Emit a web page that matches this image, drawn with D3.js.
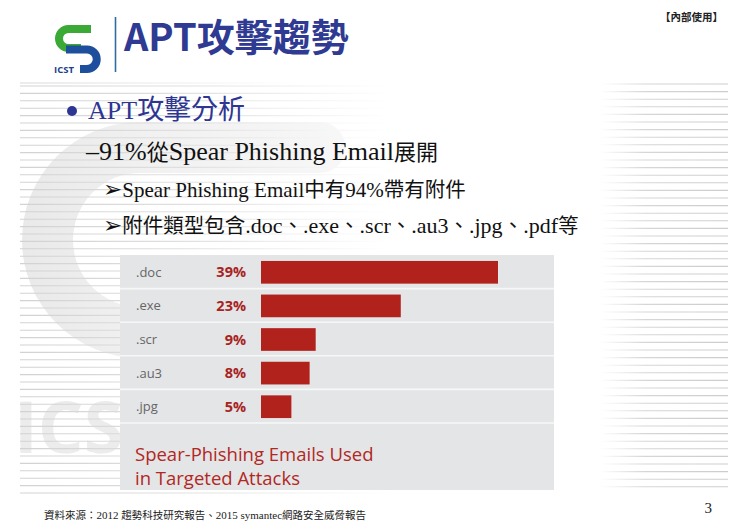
<!DOCTYPE html>
<html lang="zh-Hant">
<head>
<meta charset="UTF-8">
<title>APT攻擊趨勢</title>
<style>
  html, body { margin: 0; padding: 0; background: #fff; }
  svg { display: block; }
</style>
</head>
<body>
<script src="https://cdn.jsdelivr.net/npm/d3@7"></script>
<script>
  // chart data
  const categories = ['.doc', '.exe', '.scr', '.au3', '.jpg'];
  const shares = [39, 23, 9, 8, 5];
  const shareLabels = ['39%', '23%', '9%', '8%', '5%'];
  const chartTitle = ['Spear-Phishing Emails Used', 'in Targeted Attacks'];

  // slide texts
  const slideTitle = 'APT攻擊趨勢';
  const bulletText = 'APT攻擊分析';
  const subText = '–91%從Spear Phishing Email展開';
  const points = ['Spear Phishing Email中有94%帶有附件', '附件類型包含.doc、.exe、.scr、.au3、.jpg、.pdf等'];
  const sourceNote = '資料來源：2012 趨勢科技研究報告、2015  symantec網路安全威脅報告';

  const width = 750, height = 530;
  const panel = { left: 120, right: 554, top: 255, rows: 423, bottom: 490 };
  const barColor = '#b1221c';
  const redText = '#a8231d';
  const blue = '#2e3592';
  const cjk = '"Noto Sans CJK TC", "Noto Sans CJK SC", sans-serif';
  const serif = '"Liberation Serif", "Times New Roman", serif';
  const sans = '"Open Sans", "Noto Sans", sans-serif';

  const svg = d3.select('body').append('svg')
    .attr('width', width)
    .attr('height', height);

  const defs = svg.append('defs');
  const grad = (id, x1, x2, stops) => {
    const g = defs.append('linearGradient').attr('id', id)
      .attr('gradientUnits', 'userSpaceOnUse')
      .attr('x1', x1).attr('x2', x2).attr('y1', 0).attr('y2', 0);
    stops.forEach(s => g.append('stop').attr('offset', s[0]).attr('stop-color', s[1]));
  };
  grad('fadeL', 20, 390, [[0, '#d2d2d2'], [0.45, '#e0e0e0'], [1, '#ffffff']]);
  grad('fadeR', 600, 728, [[0, '#ffffff'], [0.35, '#d6d6d6'], [1, '#cdcdcd']]);
  grad('fadeHead', 20, 300, [[0, '#d8d8d8'], [1, '#ffffff']]);
  grad('ringShade', 20, 340, [[0, '#e9e9e9'], [0.4, '#f1f1f1'], [1, '#f7f7f7']]);

  // watermark: big C and ICS letters
  const wm = svg.append('g').classed('watermark', true);
  wm.append('path')
    .attr('d', 'M 320 122 H 140 A 118 118 0 0 0 140 358 H 330 V 307 H 140 A 67 67 0 0 1 140 173 H 320 A 25.5 25.5 0 0 0 320 122 Z')
    .attr('fill', 'url(#ringShade)');
  wm.append('text')
    .attr('x', 14).attr('y', 453)
    .attr('font-family', sans).attr('font-weight', 700).attr('font-size', 72)
    .attr('fill', '#ececec')
    .text('ICS');

  // striped background
  const stripesL = d3.range(86, 497, 7.4);
  svg.append('g').classed('stripes', true).selectAll('line').data(stripesL).join('line')
    .attr('x1', 20).attr('x2', 390)
    .attr('y1', d => d).attr('y2', d => d)
    .attr('stroke', 'url(#fadeL)').attr('stroke-width', 1.1);
  const stripesR = d3.range(84, 492, 7.6);
  svg.append('g').classed('stripes', true).selectAll('line').data(stripesR).join('line')
    .attr('x1', 600).attr('x2', 728)
    .attr('y1', d => d).attr('y2', d => d)
    .attr('stroke', 'url(#fadeR)').attr('stroke-width', 1.1);

  // header
  const head = svg.append('g').classed('header', true);
  head.append('path')
    .attr('d', 'M 91 29 H 68.5 A 9.5 9.5 0 0 0 68.5 48 H 81')
    .attr('fill', 'none').attr('stroke', '#3aa935').attr('stroke-width', 8);
  head.append('path')
    .attr('d', 'M 66 49.5 H 87 A 9.75 9.75 0 0 1 87 69 H 80')
    .attr('fill', 'none').attr('stroke', '#1d4f9c').attr('stroke-width', 8);
  head.append('text')
    .attr('x', 54).attr('y', 73)
    .attr('font-family', sans).attr('font-weight', 700).attr('font-size', 9.5)
    .attr('fill', '#1d3f8c')
    .text('ICST');
  head.append('line')
    .attr('x1', 115.5).attr('x2', 115.5).attr('y1', 17).attr('y2', 72)
    .attr('stroke', '#2f6d9e').attr('stroke-width', 1.6);
  head.append('text')
    .attr('x', 124).attr('y', 51)
    .attr('font-family', cjk).attr('font-weight', 700).attr('font-size', 38)
    .attr('fill', '#2f3a92')
    .text(slideTitle);
  head.append('line')
    .attr('x1', 20).attr('x2', 300).attr('y1', 83).attr('y2', 83)
    .attr('stroke', 'url(#fadeHead)').attr('stroke-width', 1.2);
  head.append('text')
    .attr('x', 723).attr('y', 21)
    .attr('text-anchor', 'end')
    .attr('font-family', cjk).attr('font-weight', 700).attr('font-size', 10.5)
    .attr('fill', '#222')
    .text('【內部使用】');

  // mixed latin / cjk text helper
  const cjkRe = /([\u2e80-\u9fff\uff00-\uffef]+)/;
  function mixed(g, str, x, y, latinSize, cjkSize, color, arrow) {
    const t = g.append('text').attr('x', x).attr('y', y).attr('fill', color);
    if (arrow) {
      t.append('tspan')
        .attr('font-family', '"DejaVu Sans", sans-serif')
        .attr('font-size', 23)
        .text('➢');
    }
    str.split(cjkRe).filter(s => s.length).forEach(s => {
      const isCjk = cjkRe.test(s);
      t.append('tspan')
        .attr('font-family', isCjk ? cjk : serif)
        .attr('font-size', isCjk ? cjkSize : latinSize)
        .text(s);
    });
    return t;
  }

  const body = svg.append('g').classed('bullets', true);
  body.append('circle').attr('cx', 72).attr('cy', 111).attr('r', 5).attr('fill', blue);
  mixed(body, bulletText, 88, 119, 26, 27, blue);
  mixed(body, subText, 86, 160, 26, 22, '#111');
  points.forEach((p, i) => {
    mixed(body, p, 103, [197, 233][i], [21, 22][i], 20.5, '#111', true);
  });

  // chart panel
  const chart = svg.append('g').classed('chart', true);
  chart.append('rect')
    .attr('x', panel.left).attr('y', panel.top)
    .attr('width', panel.right - panel.left).attr('height', panel.bottom - panel.top)
    .attr('fill', '#e3e5e7');

  const yScale = d3.scaleBand().domain(categories).range([panel.top, panel.rows]);
  const xScale = d3.scaleLinear().domain([0, d3.max(shares)]).range([261, 498]);
  const barH = yScale.bandwidth() * 0.675;
  const barOff = (yScale.bandwidth() - barH) / 2 + 0.5;

  chart.append('g').classed('separators', true).selectAll('line').data(categories).join('line')
    .attr('x1', panel.left).attr('x2', panel.right)
    .attr('y1', d => yScale(d) + yScale.bandwidth())
    .attr('y2', d => yScale(d) + yScale.bandwidth())
    .attr('stroke', '#f7f7f7').attr('stroke-width', 1.6);

  chart.append('g').classed('bar', true).selectAll('rect').data(shares).join('rect')
    .attr('x', xScale(0))
    .attr('y', (d, i) => yScale(categories[i]) + barOff)
    .attr('width', d => xScale(d) - xScale(0))
    .attr('height', barH)
    .attr('fill', barColor);

  chart.append('g').classed('cat-labels', true).selectAll('text').data(categories).join('text')
    .attr('x', 136)
    .attr('y', d => yScale(d) + yScale.bandwidth() / 2 + 5)
    .attr('font-family', sans).attr('font-size', 13)
    .attr('fill', '#666')
    .text(d => d);

  chart.append('g').classed('value-labels', true).selectAll('text').data(shareLabels).join('text')
    .attr('x', 246)
    .attr('y', (d, i) => yScale(categories[i]) + yScale.bandwidth() / 2 + 5.5)
    .attr('text-anchor', 'end')
    .attr('font-family', sans).attr('font-weight', 700).attr('font-size', 14.5)
    .attr('fill', redText)
    .text(d => d);

  chart.append('g').classed('chart-title', true).selectAll('text').data(chartTitle).join('text')
    .attr('x', 135)
    .attr('y', (d, i) => 461 + i * 24)
    .attr('font-family', sans).attr('font-size', 18.5)
    .attr('fill', '#b3271f')
    .text(d => d);

  // footer
  const foot = svg.append('g').classed('footer', true);
  mixed(foot, sourceNote, 44, 519, 11, 10.5, '#222');
  foot.append('text')
    .attr('x', 712).attr('y', 513)
    .attr('text-anchor', 'end')
    .attr('font-family', serif).attr('font-size', 15)
    .attr('fill', '#222')
    .text('3');
</script>
</body>
</html>
